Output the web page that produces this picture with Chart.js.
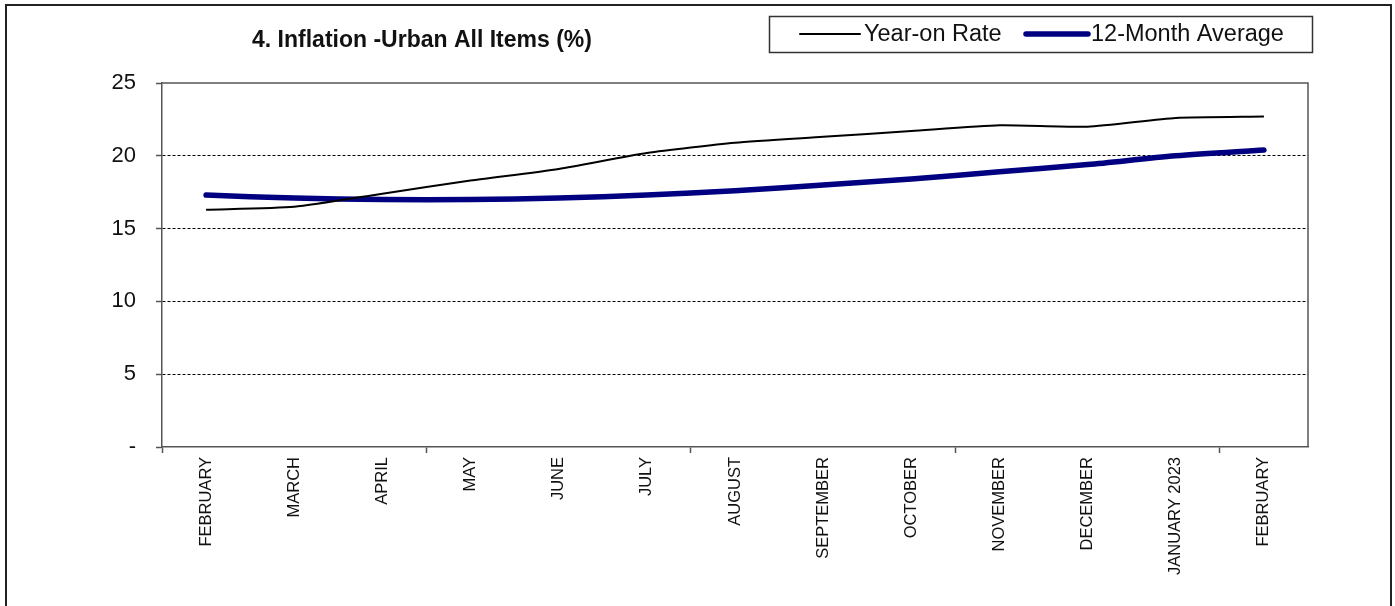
<!DOCTYPE html>
<html>
<head>
<meta charset="utf-8">
<title>Inflation - Urban All Items</title>
<script src="https://cdn.jsdelivr.net/npm/chart.js@4/dist/chart.umd.min.js"></script>
<style>
  body { margin: 0; background: #fff; }
  #wrap { width: 1395px; height: 606px; }
</style>
</head>
<body>
<div id="wrap"><canvas id="inflationChart" width="1395" height="606"></canvas></div>
<script>
// months on the x axis
const months = ['FEBRUARY', 'MARCH', 'APRIL', 'MAY', 'JUNE', 'JULY', 'AUGUST',
  'SEPTEMBER', 'OCTOBER', 'NOVEMBER', 'DECEMBER', 'JANUARY 2023', 'FEBRUARY'];

// inflation rates (%)
const yearOnRate = [16.3, 16.5, 17.4, 18.3, 19.1, 20.2, 20.9, 21.3, 21.7, 22.1, 22.0, 22.6, 22.7];
const twelveMonthAvg = [17.3, 17.1, 17.0, 17.0, 17.1, 17.3, 17.6, 18.0, 18.4, 18.9, 19.4, 20.0, 20.4];

// y axis labels for 0, 5, 10 ... 25
const yTickLabels = ['-', '5', '10', '15', '20', '25'];

const chartTitle = '4. Inflation -Urban All Items (%)';

const FONT = '"Liberation Sans", Arial, sans-serif';
const AXIS_GREY = '#555';

// white page, outer frame, plot box, title and legend
const decorations = {
  id: 'decorations',
  beforeDraw(chart) {
    const ctx = chart.ctx;
    ctx.save();
    ctx.fillStyle = '#fff';
    ctx.fillRect(0, 0, chart.width, chart.height);
    ctx.strokeStyle = '#222';
    ctx.lineWidth = 2;
    ctx.beginPath();
    ctx.moveTo(6, chart.height);
    ctx.lineTo(6, 5);
    ctx.lineTo(1391, 5);
    ctx.lineTo(1391, chart.height);
    ctx.stroke();
    ctx.restore();
  },
  beforeDatasetsDraw(chart) {
    const {ctx, chartArea: a} = chart;
    ctx.save();
    ctx.strokeStyle = AXIS_GREY;
    ctx.lineWidth = 1.5;
    ctx.beginPath();
    ctx.moveTo(a.left, a.top);
    ctx.lineTo(a.right, a.top);
    ctx.lineTo(a.right, a.bottom);
    ctx.stroke();
    ctx.restore();
  },
  afterDraw(chart) {
    const ctx = chart.ctx;
    ctx.save();
    // title
    ctx.fillStyle = '#111';
    ctx.font = 'bold 23px ' + FONT;
    ctx.textAlign = 'center';
    ctx.textBaseline = 'middle';
    ctx.fillText(chartTitle, 422, 41);

    // legend box
    ctx.strokeStyle = '#333';
    ctx.lineWidth = 1.5;
    ctx.strokeRect(769.5, 16.5, 543, 36);

    const items = [
      {ds: chart.data.datasets[0], x1: 800, x2: 860, tx: 864},
      {ds: chart.data.datasets[1], x1: 1026, x2: 1088, tx: 1091}
    ];
    ctx.font = '23.5px ' + FONT;
    ctx.textAlign = 'left';
    items.forEach(it => {
      ctx.strokeStyle = it.ds.borderColor;
      ctx.lineWidth = it.ds.borderWidth;
      ctx.lineCap = 'round';
      ctx.beginPath();
      ctx.moveTo(it.x1, 34);
      ctx.lineTo(it.x2, 34);
      ctx.stroke();
      ctx.fillStyle = '#111';
      ctx.fillText(it.ds.label, it.tx, 35);
    });
    ctx.restore();
  }
};

new Chart(document.getElementById('inflationChart'), {
  type: 'line',
  data: {
    labels: months,
    datasets: [
      {
        label: 'Year-on Rate',
        data: yearOnRate,
        borderColor: '#000',
        borderWidth: 2,
        pointRadius: 0,
        tension: 0.2,
        fill: false
      },
      {
        label: '12-Month Average',
        data: twelveMonthAvg,
        borderColor: '#000080',
        borderWidth: 5.5,
        borderCapStyle: 'round',
        pointRadius: 0,
        tension: 0.3,
        fill: false
      }
    ]
  },
  options: {
    responsive: false,
    animation: false,
    layout: { padding: { left: 0, top: 83, right: 87, bottom: 0 } },
    plugins: {
      legend: { display: false },
      title: { display: false },
      tooltip: { enabled: false }
    },
    scales: {
      x: {
        offset: true,
        afterFit(scale) { scale.height = 159; },
        grid: {
          offset: true,
          drawOnChartArea: false,
          tickLength: 6,
          tickWidth: 1.5,
          tickColor: ctx => (ctx.index % 3 === 0 ? AXIS_GREY : 'transparent')
        },
        border: { color: AXIS_GREY, width: 1.5 },
        ticks: {
          autoSkip: false,
          minRotation: 90,
          maxRotation: 90,
          padding: 4,
          color: '#111',
          font: { family: FONT, size: 16.5 }
        }
      },
      y: {
        min: 0,
        max: 25,
        afterFit(scale) { scale.width = 162; },
        grid: {
          color: ctx => (ctx.tick && ctx.tick.value > 0 && ctx.tick.value < 25 ? '#000' : 'transparent'),
          lineWidth: 1,
          tickLength: 6,
          tickWidth: 1.5,
          tickColor: AXIS_GREY
        },
        border: { color: AXIS_GREY, width: 1.5, dash: [3, 2] },
        ticks: {
          stepSize: 5,
          padding: 20,
          color: '#111',
          font: { family: FONT, size: 22 },
          callback: (value) => yTickLabels[value / 5]
        }
      }
    }
  },
  plugins: [decorations]
});
</script>
</body>
</html>
